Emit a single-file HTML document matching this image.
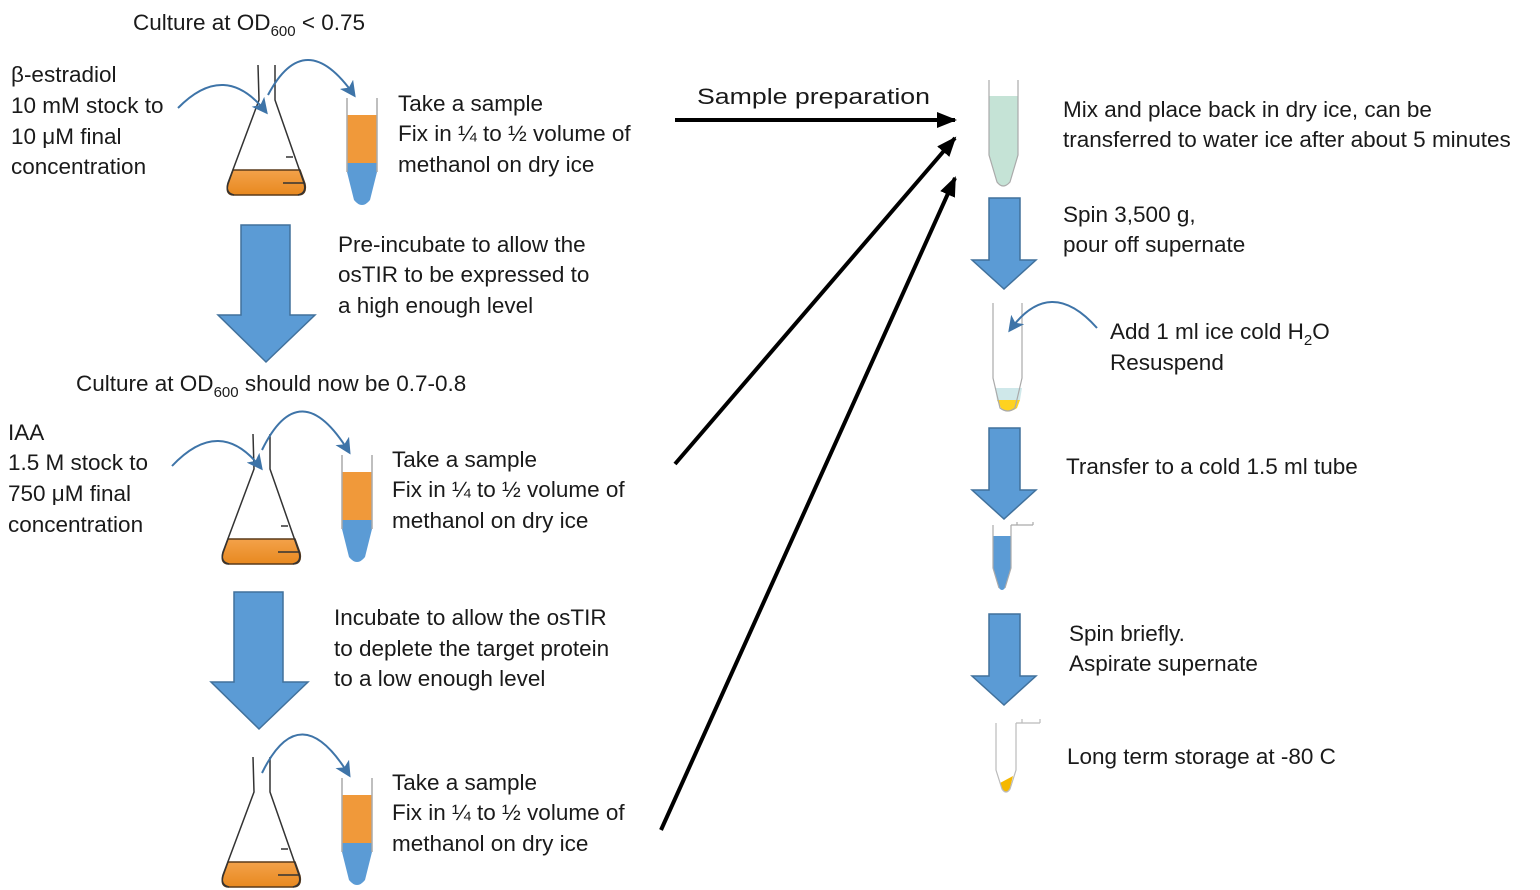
<!DOCTYPE html>
<html><head><meta charset="utf-8"><style>
body{margin:0;background:#fff}
svg{display:block}
text{font-family:"Liberation Sans",sans-serif;font-size:22.5px;fill:#1a1a1a}
</style></head><body>
<svg width="1540" height="890" viewBox="0 0 1540 890" xmlns="http://www.w3.org/2000/svg">
<defs>
<linearGradient id="og" x1="0" y1="0" x2="0" y2="1"><stop offset="0" stop-color="#f3a24a"/><stop offset="1" stop-color="#e8891f"/></linearGradient>
<marker id="ba" markerWidth="16" markerHeight="16" refX="13" refY="8" orient="auto" markerUnits="userSpaceOnUse"><path d="M0,0 L16,8 L0,16 L4,8 Z" fill="#3e74a8"/></marker>
<marker id="ka" markerWidth="20" markerHeight="16" refX="18" refY="8" orient="auto" markerUnits="userSpaceOnUse"><path d="M0,0 L20,8 L0,16 Z" fill="#000"/></marker>
<g id="flask">
<path d="M233,170 L300,170 L305,184 Q307,195 298,195 L234,195 Q225,195 228,184 Z" fill="url(#og)" stroke="#5a3a1a" stroke-width="1.5"/>
<path d="M258,65 L259,100 L228,183 Q225,193 234,195 M275,65 L275,100 L304,183 Q307,193 298,195" fill="none" stroke="#333" stroke-width="1.5"/>
<path d="M286,157 L293,157 M283,183 L305,183" stroke="#333" stroke-width="1.5"/>
</g>
<g id="tube">
<rect x="347" y="115" width="30" height="48" fill="#f0993a"/>
<path d="M347,163 L377,163 L377,172 L370,200 Q362,210 354,200 L347,172 Z" fill="#5b9bd5"/>
<path d="M347,98 L347,172 M377,98 L377,172" stroke="#aaa" stroke-width="1.5"/>
</g>
<g id="bigarrow">
<path d="M241,225 L290,225 L290,315 L315,315 L266,362 L218,315 L241,315 Z" fill="#5b9bd5" stroke="#41719c" stroke-width="1.5"/>
</g>
<g id="rarrow">
<path d="M989,198 L1020,198 L1020,260 L1036,260 L1004,289 L972,260 L989,260 Z" fill="#5b9bd5" stroke="#41719c" stroke-width="1.5"/>
</g>
</defs>

<text x="133" y="30">Culture at OD<tspan font-size="15" dy="6">600</tspan><tspan dy="-6"> &lt; 0.75</tspan></text>
<text x="11" y="82">β-estradiol</text>
<text x="11" y="113">10 mM stock to</text>
<text x="11" y="144">10 μM final</text>
<text x="11" y="174">concentration</text>
<use href="#flask"/>
<use href="#tube"/>
<path d="M178,108 Q225,60 266,112" fill="none" stroke="#3e74a8" stroke-width="2" marker-end="url(#ba)"/>
<path d="M268,95 Q305,25 354,95" fill="none" stroke="#3e74a8" stroke-width="2" marker-end="url(#ba)"/>
<text x="398" y="111">Take a sample</text>
<text x="398" y="141">Fix in ¼ to ½ volume of</text>
<text x="398" y="172">methanol on dry ice</text>

<use href="#bigarrow"/>
<text x="338" y="252">Pre-incubate to allow the</text>
<text x="338" y="282">osTIR to be expressed to</text>
<text x="338" y="313">a high enough level</text>

<text x="76" y="391">Culture at OD<tspan font-size="15" dy="6">600</tspan><tspan dy="-6"> should now be 0.7-0.8</tspan></text>
<text x="8" y="440">IAA</text>
<text x="8" y="470">1.5 M stock to</text>
<text x="8" y="501">750 μM final</text>
<text x="8" y="532">concentration</text>
<use href="#flask" transform="translate(-5,369)"/>
<use href="#tube" transform="translate(-5,357)"/>
<path d="M172,466 Q220,415 261,468" fill="none" stroke="#3e74a8" stroke-width="2" marker-end="url(#ba)"/>
<path d="M262,450 Q300,372 349,452" fill="none" stroke="#3e74a8" stroke-width="2" marker-end="url(#ba)"/>
<text x="392" y="467">Take a sample</text>
<text x="392" y="497">Fix in ¼ to ½ volume of</text>
<text x="392" y="528">methanol on dry ice</text>

<use href="#bigarrow" transform="translate(-7,367)"/>
<text x="334" y="625">Incubate to allow the osTIR</text>
<text x="334" y="656">to deplete the target protein</text>
<text x="334" y="686">to a low enough level</text>

<use href="#flask" transform="translate(-5,692)"/>
<use href="#tube" transform="translate(-5,680)"/>
<path d="M262,773 Q300,695 349,775" fill="none" stroke="#3e74a8" stroke-width="2" marker-end="url(#ba)"/>
<text x="392" y="790">Take a sample</text>
<text x="392" y="820">Fix in ¼ to ½ volume of</text>
<text x="392" y="851">methanol on dry ice</text>

<text x="697" y="104" font-size="25" textLength="233" lengthAdjust="spacingAndGlyphs">Sample preparation</text>
<line x1="675" y1="120" x2="955" y2="120" stroke="#000" stroke-width="4" marker-end="url(#ka)"/>
<line x1="675" y1="464" x2="955" y2="138" stroke="#000" stroke-width="4" marker-end="url(#ka)"/>
<line x1="661" y1="830" x2="955" y2="178" stroke="#000" stroke-width="4" marker-end="url(#ka)"/>

<path d="M989,96 L1018,96 L1018,155 L1010,182 Q1003,190 997,182 L989,155 Z" fill="#c5e3d6"/>
<path d="M989,80 L989,155 L997,182 Q1003,190 1010,182 L1018,155 L1018,80" fill="none" stroke="#aaa" stroke-width="1.2"/>
<text x="1063" y="117">Mix and place back in dry ice, can be</text>
<text x="1063" y="147">transferred to water ice after about 5 minutes</text>
<use href="#rarrow"/>
<text x="1063" y="222">Spin 3,500 g,</text>
<text x="1063" y="252">pour off supernate</text>

<path d="M995,388 L1022,388 L1020,400 L997,400 Z" fill="#cfe8ea"/>
<path d="M997,400 L1020,400 L1017,408 Q1009,414 1001,408 Z" fill="#ffd21f"/>
<path d="M993,303 L993,378 L1000,408 Q1008,414 1015,408 L1022,378 L1022,303" fill="none" stroke="#aaa" stroke-width="1.2"/>
<path d="M1097,328 Q1050,275 1010,330" fill="none" stroke="#3e74a8" stroke-width="2" marker-end="url(#ba)"/>
<text x="1110" y="339">Add 1 ml ice cold H<tspan font-size="15" dy="6">2</tspan><tspan dy="-6">O</tspan></text>
<text x="1110" y="370">Resuspend</text>

<use href="#rarrow" transform="translate(0,230)"/>
<text x="1066" y="474">Transfer to a cold 1.5 ml tube</text>
<path d="M993,536 L1011,536 L1011,568 L1005,588 Q1002,592 999,588 L993,568 Z" fill="#5b9bd5"/>
<path d="M993,525 L993,568 L999,588 M1011,525 L1011,568 L1005,588 M1011,525 L1033,525 M1017,522 L1017,525 M1033,522 L1033,525" fill="none" stroke="#aaa" stroke-width="1.2"/>

<use href="#rarrow" transform="translate(0,416)"/>
<text x="1069" y="641">Spin briefly.</text>
<text x="1069" y="671">Aspirate supernate</text>

<path d="M1000,783 L1013,776 L1010,788 Q1006,795 1002,789 Z" fill="#f5b800"/>
<path d="M996,723 L996,770 L1002,789 Q1006,795 1010,789 L1016,770 L1016,723 M1016,723 L1040,723 M1022,719 L1022,723 M1040,719 L1040,723" fill="none" stroke="#bbb" stroke-width="1.2"/>
<text x="1067" y="764">Long term storage at -80 C</text>
</svg>
</body></html>
